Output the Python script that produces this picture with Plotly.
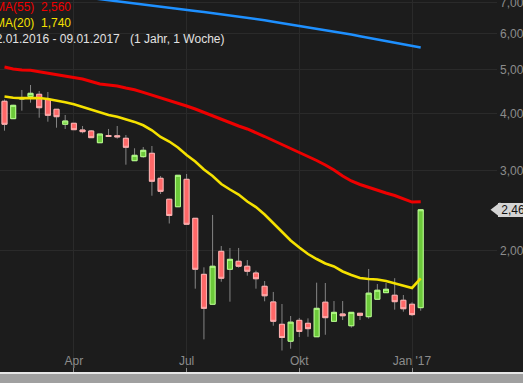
import math
import pandas as pd
import plotly.graph_objects as go

# ---------------- data ----------------
weeks = pd.date_range(end="2017-01-09", periods=49, freq="W-MON")

open_ = [4.256, 3.898, 4.305, 4.356, 4.409, 4.299, 4.087, 3.789, 3.808, 3.681,
         3.663, 3.452, 3.580, 3.575, 3.530, 3.152, 3.217, 3.272, 2.884, 2.594,
         2.498, 2.869, 2.356, 1.775, 1.526, 1.994, 1.821, 1.896, 1.849, 1.787,
         1.671, 1.544, 1.379, 1.266, 1.407, 1.386, 1.295, 1.542, 1.400, 1.453,
         1.369, 1.458, 1.433, 1.565, 1.618, 1.597, 1.557, 1.526, 1.500]
high = [4.295, 4.180, 4.506, 4.621, 4.483, 4.460, 4.090, 3.971, 3.810, 3.756,
        3.680, 3.607, 3.700, 3.756, 3.589, 3.356, 3.378, 3.395, 2.917, 2.600,
        2.928, 2.947, 2.356, 1.839, 2.396, 2.048, 2.028, 2.028, 1.908, 1.808,
        1.716, 1.624, 1.528, 1.438, 1.424, 1.421, 1.702, 1.699, 1.551, 1.551,
        1.465, 1.458, 1.824, 1.690, 1.699, 1.741, 1.599, 1.541, 2.460]
low = [3.668, 3.890, 4.058, 4.226, 3.917, 3.839, 3.724, 3.700, 3.680, 3.620,
       3.541, 3.452, 3.562, 3.523, 3.089, 3.152, 3.200, 2.641, 2.664, 2.295,
       2.498, 2.286, 1.651, 1.278, 1.526, 1.710, 1.546, 1.836, 1.763, 1.651,
       1.549, 1.369, 1.208, 1.219, 1.293, 1.295, 1.295, 1.308, 1.395, 1.409,
       1.356, 1.409, 1.419, 1.565, 1.618, 1.485, 1.470, 1.438, 1.477]
close = [3.789, 4.170, 4.330, 4.431, 4.120, 3.965, 3.937, 3.852, 3.687, 3.650,
         3.541, 3.607, 3.562, 3.557, 3.373, 3.239, 3.322, 2.841, 2.700, 2.390,
         2.928, 2.286, 1.821, 1.495, 1.849, 1.740, 1.915, 1.849, 1.803, 1.736,
         1.593, 1.400, 1.290, 1.394, 1.330, 1.349, 1.495, 1.426, 1.465, 1.440,
         1.465, 1.443, 1.614, 1.638, 1.646, 1.546, 1.492, 1.448, 2.460]

ma55 = [5.061, 5.010, 4.985, 4.977, 4.942, 4.902, 4.865, 4.826, 4.792, 4.763,
        4.703, 4.644, 4.621, 4.597, 4.551, 4.512, 4.453, 4.393, 4.338, 4.283,
        4.219, 4.156, 4.093, 4.021, 3.951, 3.882, 3.814, 3.756, 3.700, 3.635,
        3.562, 3.491, 3.421, 3.361, 3.294, 3.228, 3.155, 3.084, 3.007, 2.917,
        2.845, 2.795, 2.753, 2.718, 2.677, 2.644, 2.597, 2.558, 2.560]
ma20 = [4.360, 4.334, 4.325, 4.323, 4.327, 4.305, 4.275, 4.236, 4.194, 4.135,
        4.073, 4.021, 3.971, 3.935, 3.888, 3.835, 3.770, 3.676, 3.553, 3.473,
        3.370, 3.244, 3.139, 3.015, 2.917, 2.802, 2.725, 2.657, 2.565, 2.494,
        2.402, 2.301, 2.193, 2.106, 2.033, 1.967, 1.918, 1.875, 1.847, 1.801,
        1.769, 1.742, 1.734, 1.729, 1.716, 1.695, 1.674, 1.657, 1.740]
ma_long = [7.571, 7.529, 7.487, 7.449, 7.408, 7.367, 7.326, 7.290, 7.249, 7.209,
           7.173, 7.133, 7.093, 7.054, 7.015, 6.976, 6.937, 6.899, 6.861, 6.823,
           6.789, 6.751, 6.717, 6.683, 6.646, 6.609, 6.573, 6.523, 6.487, 6.451,
           6.412, 6.363, 6.319, 6.274, 6.230, 6.186, 6.146, 6.102, 6.056, 6.010,
           5.962, 5.911, 5.863, 5.816, 5.766, 5.717, 5.671, 5.628, 5.585]

tick_months = ["2016-04", "2016-07", "2016-10", "2017-01"]
tick_labels = ["Apr", "Jul", "Okt", "Jan '17"]
y_ticks = [2, 3, 4, 5, 6, 7]
y_tick_labels = ["2,00", "3,00", "4,00", "5,00", "6,00", "7,00"]
ma55_label = "MA(55)"
ma20_label = "MA(20)"
date_range_label = "02.01.2016 - 09.01.2017"
period_label = "(1 Jahr, 1 Woche)"

# ---------------- derived ----------------
x = list(range(len(weeks)))
tickvals = [next(i for i, d in enumerate(weeks) if d.strftime("%Y-%m") == m)
            for m in tick_months]
body_hi = [max(o, c) for o, c in zip(open_, close)]
body_lo = [min(o, c) for o, c in zip(open_, close)]


def de(v, n):
    return f"{v:.{n}f}".replace(".", ",")


BG = "#1c1c1c"
GRID = "#2a2a2a"
RED = "#ee0000"
YEL = "#f5e100"
BLUE = "#1e90ff"
TAG = "#d4d4d4"
FONT = "Arial, 'Liberation Sans', sans-serif"

x_range = [-0.52, 56.8]
y_range = [0.034893, 0.85125]
PW, PH = 497, 372

fig = go.Figure()

# wicks (gray)
fig.add_trace(go.Candlestick(
    x=x, open=open_, high=high, low=low, close=close,
    increasing=dict(line=dict(color="#858585", width=1), fillcolor="#858585"),
    decreasing=dict(line=dict(color="#858585", width=1), fillcolor="#858585"),
    hoverinfo="skip", showlegend=False))
# bodies (coloured)
fig.add_trace(go.Candlestick(
    x=x, open=open_, high=body_hi, low=body_lo, close=close,
    increasing=dict(line=dict(color="#b6ff8a", width=1), fillcolor="#6cc93a"),
    decreasing=dict(line=dict(color="#ffb0b0", width=1), fillcolor="#ff6868"),
    hoverinfo="skip", showlegend=False))

fig.add_trace(go.Scatter(x=x, y=ma_long, mode="lines",
                         line=dict(color=BLUE, width=2.5), hoverinfo="skip"))
fig.add_trace(go.Scatter(x=x, y=ma55, mode="lines",
                         line=dict(color=RED, width=3), hoverinfo="skip"))
fig.add_trace(go.Scatter(x=x, y=ma20, mode="lines",
                         line=dict(color=YEL, width=2.6), hoverinfo="skip"))

# price tag arrow
fig.add_trace(go.Scatter(x=[x_range[1]], y=[close[-1]], mode="markers",
                         marker=dict(symbol="triangle-left", size=13, color=TAG),
                         cliponaxis=False, hoverinfo="skip"))

ann = []


def px_ann(text, xp, yp, color, anchor):
    ann.append(dict(text=text, xref="paper", yref="paper", x=xp / PW, y=1 - yp / PH,
                    xanchor=anchor, yanchor="middle", showarrow=False,
                    borderpad=0, borderwidth=0,
                    font=dict(family=FONT, size=12, color=color)))


px_ann(ma55_label, 33.5, 6.8, RED, "right")
px_ann(de(ma55[-1], 3), 41, 6.8, RED, "left")
px_ann(ma20_label, 33.5, 23.3, YEL, "right")
px_ann(de(ma20[-1], 3), 41, 23.3, YEL, "left")
px_ann(date_range_label, 119.5, 38.8, "#e2e2e2", "right")
px_ann(period_label, 130, 38.8, "#e2e2e2", "left")

ann.append(dict(text="\u00a0" + de(close[-1], 2) + "\u00a0\u00a0", xref="paper", yref="y",
                x=1, y=math.log10(close[-1]), xanchor="left", yanchor="middle",
                xshift=1, showarrow=False, bgcolor=TAG, borderpad=0, borderwidth=0,
                font=dict(family=FONT, size=12, color="#111111")))

shapes = [
    dict(type="rect", xref="paper", yref="paper", x0=-0.05, x1=1.1,
         y0=-2 / PH, y1=0, fillcolor="#e6e6e6", line=dict(width=0), layer="above"),
    dict(type="rect", xref="paper", yref="paper", x0=-0.05, x1=1.1,
         y0=-12 / PH, y1=-2 / PH, fillcolor="#a0a0a0", line=dict(width=0), layer="above"),
]

fig.update_layout(
    template="none",
    width=523, height=383,
    margin=dict(l=0, r=26, t=0, b=11, pad=0, autoexpand=False),
    paper_bgcolor=BG, plot_bgcolor=BG,
    showlegend=False,
    boxgap=0.42, boxgroupgap=0,
    font=dict(family=FONT, size=12, color="#8c8c8c"),
    annotations=ann, shapes=shapes,
    xaxis=dict(range=x_range, tickvals=tickvals, ticktext=tick_labels,
               ticks="inside", ticklen=4, tickcolor="#8c8c8c", tickwidth=1,
               ticklabelposition="inside", tickfont=dict(size=12, color="#8c8c8c"),
               showgrid=True, gridcolor=GRID, gridwidth=1, zeroline=False,
               showline=False, rangeslider=dict(visible=False), automargin=False,
               fixedrange=True),
    yaxis=dict(type="log", range=y_range, side="right", tickvals=y_ticks,
               ticktext=y_tick_labels, ticks="", tickfont=dict(size=12, color="#8c8c8c"),
               ticklabeloverflow="allow", ticklabelstandoff=2,
               showgrid=True, gridcolor=GRID, gridwidth=1, zeroline=False,
               showline=False, automargin=False, fixedrange=True),
)

fig.write_html("out.html", config={"displayModeBar": False},
               post_script="document.body.style.margin='0';"
                           "document.body.style.overflow='hidden';"
                           "document.body.style.background='#1c1c1c';")
